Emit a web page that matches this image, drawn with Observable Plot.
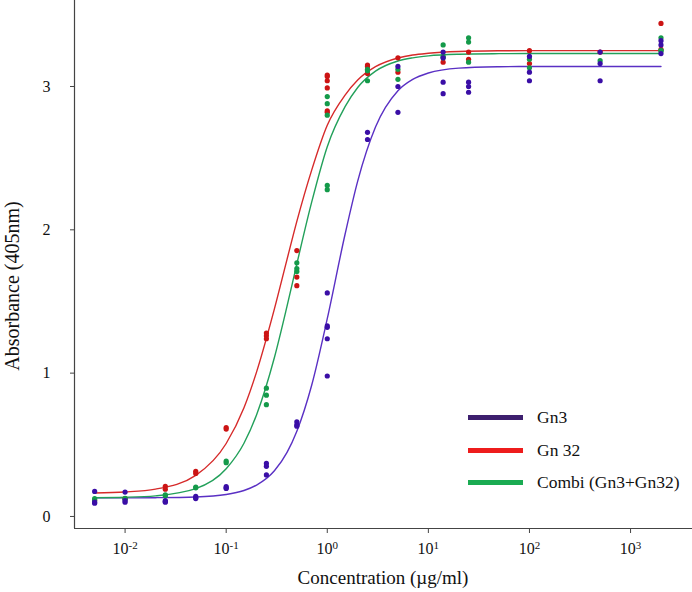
<!DOCTYPE html>
<html>
<head>
<meta charset="utf-8">
<script src="https://cdn.jsdelivr.net/npm/d3@7"></script>
<script src="https://cdn.jsdelivr.net/npm/@observablehq/plot@0.6"></script>
<style>
  html, body { margin: 0; padding: 0; background: #fff; }
  #wrap { position: relative; width: 692px; height: 592px; font-family: "Liberation Serif", "Times New Roman", serif; color: #111; }
  #ytitle { position: absolute; left: 12px; top: 286px; transform: translate(-50%, -50%) rotate(-90deg); font-size: 20px; white-space: nowrap; }
  #xtitle { position: absolute; left: 383px; top: 578px; transform: translate(-50%, -50%); font-size: 19px; white-space: nowrap; }
  .leg { position: absolute; left: 468px; height: 20px; display: flex; align-items: center; font-size: 17.5px; white-space: nowrap; }
  .leg span.sw { display: inline-block; width: 55px; height: 5px; margin-right: 14px; }
  svg text { font-family: "Liberation Serif", "Times New Roman", serif; }
</style>
</head>
<body>
<div id="wrap">
  <div id="chart"></div>
  <div id="ytitle">Absorbance (405nm)</div>
  <div id="xtitle">Concentration (µg/ml)</div>
  <div id="legend"></div>
</div>
<script>
// ---- axis ticks ----
const xTicks = [0.01, 0.1, 1, 10, 100, 1000];
const xTickExponents = ["-2", "-1", "0", "1", "2", "3"];
const yTicks = [0, 1, 2, 3];
const yTickLabels = ["0", "1", "2", "3"];
const xDomain = [0.00316, 4100];
const yDomain = [-0.084, 3.6];

// ---- series names & colours ----
const seriesNames = ["Gn3", "Gn 32", "Combi (Gn3+Gn32)"];
const dotColors = ["#3a0ea6", "#cc1414", "#149a4a"];
const lineColors = ["#5a30c4", "#d62a2a", "#22a05a"];
const legendColors = ["#3d1f6e", "#ee1c1c", "#1aab52"];

// ---- measured points [concentration, absorbance] ----
const gn3Points = [
  [0.005,0.175],[0.005,0.093],[0.005,0.10],
  [0.01,0.17],[0.01,0.10],[0.01,0.11],
  [0.025,0.105],[0.025,0.11],[0.025,0.10],
  [0.05,0.14],[0.05,0.125],[0.05,0.13],
  [0.1,0.208],[0.1,0.195],[0.1,0.20],
  [0.25,0.37],[0.25,0.35],[0.25,0.29],
  [0.5,0.66],[0.5,0.64],[0.5,0.63],
  [1,1.56],[1,1.33],[1,1.32],[1,1.24],[1,0.98],
  [2.5,2.68],[2.5,2.63],
  [5,3.14],[5,3.00],[5,2.82],
  [14,3.24],[14,3.20],[14,3.03],[14,2.95],
  [25,3.03],[25,3.00],[25,2.96],
  [100,3.21],[100,3.10],[100,3.04],
  [500,3.24],[500,3.16],[500,3.04],
  [2000,3.32],[2000,3.29],[2000,3.23]
];
const gn32Points = [
  [0.005,0.115],[0.01,0.125],
  [0.025,0.21],[0.025,0.19],
  [0.05,0.315],[0.05,0.30],
  [0.1,0.62],[0.1,0.61],
  [0.25,1.28],[0.25,1.26],[0.25,1.24],
  [0.5,1.855],[0.5,1.67],[0.5,1.61],
  [1,3.08],[1,3.07],[1,3.04],[1,2.99],[1,2.83],[1,2.82],
  [2.5,3.15],[2.5,3.14],[2.5,3.09],
  [5,3.20],[5,3.10],
  [14,3.17],
  [25,3.24],[25,3.19],
  [100,3.25],[100,3.16],
  [500,3.24],
  [2000,3.44],[2000,3.26]
];
const combiPoints = [
  [0.005,0.124],[0.005,0.11],
  [0.01,0.126],[0.01,0.12],
  [0.025,0.15],[0.025,0.145],
  [0.05,0.205],[0.05,0.20],
  [0.1,0.387],[0.1,0.375],
  [0.25,0.895],[0.25,0.846],[0.25,0.78],
  [0.5,1.77],[0.5,1.73],[0.5,1.71],
  [1,2.93],[1,2.88],[1,2.80],[1,2.31],[1,2.28],
  [2.5,3.12],[2.5,3.11],[2.5,3.04],
  [5,3.12],[5,3.05],
  [14,3.29],[14,3.21],[14,3.20],
  [25,3.34],[25,3.31],[25,3.17],
  [100,3.19],[100,3.13],
  [500,3.18],
  [2000,3.34],[2000,3.25],[2000,3.25]
];

// ---- fitted curves at these concentrations ----
const fitConc = [0.005,0.01,0.02,0.05,0.1,0.15,0.2,0.3,0.4,0.5,0.7,1,1.5,2,3,5,7,10,20,50,100,500,2000];
const gn3Fit  = [0.130,0.130,0.131,0.136,0.153,0.181,0.219,0.319,0.447,0.595,0.914,1.38,1.969,2.34,2.717,2.97,3.049,3.094,3.128,3.138,3.14,3.14,3.14];
const gn32Fit = [0.164,0.171,0.191,0.287,0.509,0.759,1.009,1.448,1.794,2.059,2.415,2.73,2.94,3.045,3.138,3.199,3.22,3.232,3.244,3.249,3.25,3.25,3.25];
const combiFit= [0.131,0.134,0.144,0.194,0.333,0.511,0.710,1.109,1.467,1.762,2.191,2.58,2.859,2.993,3.107,3.178,3.20,3.214,3.225,3.229,3.23,3.23,3.23];

// ---- build tables ----
const pointSets = [gn3Points, gn32Points, combiPoints];
const fitSets = [gn3Fit, gn32Fit, combiFit];
const fitRows = fitSets.flatMap((vals, i) => vals.map((v, j) => ({series: seriesNames[i], c: fitConc[j], a: v})));
const drawOrder = [1, 2, 0];
const dotRows = drawOrder.flatMap(i => pointSets[i].map(([c, a]) => ({series: seriesNames[i], c, a})));

const serif = "'Liberation Serif', 'Times New Roman', serif";
const chart = Plot.plot({
  width: 692,
  height: 592,
  marginLeft: 74,
  marginRight: 0,
  marginTop: 0,
  marginBottom: 64,
  style: {fontFamily: serif, fontSize: "16px", color: "#111", background: "#fff"},
  x: {type: "log", domain: xDomain},
  y: {domain: yDomain},
  marks: [
    Plot.axisX({ticks: xTicks, tickFormat: d => "10^" + xTickExponents[xTicks.indexOf(d)], tickSize: 5, tickPadding: 9, label: null, stroke: "#444", fontSize: 16}),
    Plot.axisY({ticks: yTicks, tickFormat: d => yTickLabels[yTicks.indexOf(d)], tickSize: 4, tickPadding: 20, label: null, stroke: "#444", fontSize: 16}),
    Plot.ruleX([xDomain[0]], {stroke: "#444", strokeWidth: 1.2}),
    Plot.ruleY([yDomain[0]], {stroke: "#444", strokeWidth: 1.2}),
    Plot.line(fitRows, {x: "c", y: "a", z: "series", stroke: d => lineColors[seriesNames.indexOf(d.series)], strokeWidth: 1.4, curve: "monotone-x"}),
    Plot.dot(dotRows, {x: "c", y: "a", r: 2.6, fill: d => dotColors[seriesNames.indexOf(d.series)], stroke: "none"})
  ]
});
document.getElementById("chart").appendChild(chart);

// turn "10^e" tick labels into 10 with a raised exponent
const SVGNS = "http://www.w3.org/2000/svg";
chart.querySelectorAll("text").forEach(t => {
  const s = t.textContent;
  if (s.startsWith("10^")) {
    const exp = s.slice(3);
    t.textContent = "";
    const base = document.createElementNS(SVGNS, "tspan");
    base.textContent = "10";
    const sup = document.createElementNS(SVGNS, "tspan");
    sup.textContent = exp;
    sup.setAttribute("dy", "-0.45em");
    sup.setAttribute("font-size", "11px");
    t.appendChild(base);
    t.appendChild(sup);
  }
});

// ---- legend ----
const legendTops = [407, 440, 472];
const legend = document.getElementById("legend");
seriesNames.forEach((name, i) => {
  const row = document.createElement("div");
  row.className = "leg";
  row.style.top = legendTops[i] + "px";
  const sw = document.createElement("span");
  sw.className = "sw";
  sw.style.background = legendColors[i];
  row.appendChild(sw);
  row.appendChild(document.createTextNode(name));
  legend.appendChild(row);
});
</script>
</body>
</html>
